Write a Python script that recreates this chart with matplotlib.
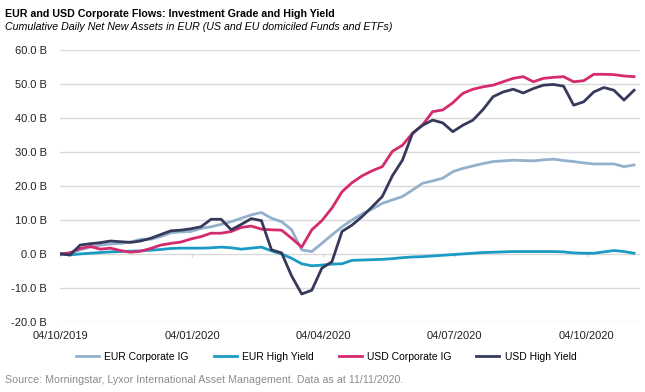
import numpy as np
import pandas as pd
import matplotlib
matplotlib.use("Agg")
import matplotlib.pyplot as plt
import matplotlib.dates as mdates

plt.rcParams['font.family'] = ['Liberation Sans', 'DejaVu Sans']

# weekly observations, Friday 04/10/2019 onwards
dates = pd.date_range("2019-10-04", periods=58, freq="7D")

eur_ig = [0, 0.3, 1.2, 2.0, 2.6, 2.9, 3.1, 3.5, 4.3, 4.3, 5.1, 6.2, 6.5, 6.6, 7.5,
          8.0, 8.7, 9.5, 10.5, 11.5, 12.2, 10.5, 9.5, 7.1, 1.2, 0.7, 3.1, 5.6, 8.0,
          10.0, 11.8, 13.2, 14.9, 15.9, 16.9, 18.8, 20.8, 21.5, 22.3, 24.2, 25.2,
          25.9, 26.6, 27.2, 27.4, 27.6, 27.5, 27.4, 27.7, 27.9, 27.5, 27.2, 26.8,
          26.5, 26.5, 26.5, 25.7, 26.2]
eur_hy = [0, -0.3, 0, 0.2, 0.4, 0.6, 0.7, 0.8, 0.9, 1.1, 1.3, 1.6, 1.7, 1.7, 1.7,
          1.8, 2.0, 1.8, 1.4, 1.7, 2.0, 0.9, 0, -1.3, -2.9, -3.5, -3.3, -3.0, -2.9,
          -1.9, -1.8, -1.7, -1.6, -1.4, -1.1, -0.9, -0.8, -0.6, -0.4, -0.2, 0,
          0.2, 0.4, 0.5, 0.6, 0.7, 0.7, 0.7, 0.7, 0.7, 0.6, 0.3, 0.2, 0.2, 0.6,
          1.0, 0.7, 0.2]
usd_ig = [0, 0.3, 1.6, 2.2, 1.4, 1.7, 1.0, 0.5, 0.8, 1.6, 2.6, 3.1, 3.5, 4.4, 5.1,
          6.1, 6.1, 6.6, 7.8, 8.2, 7.3, 7.1, 7.0, 4.6, 2.0, 7.1, 9.8, 13.5, 18.3,
          21.0, 23.0, 24.5, 25.7, 30.2, 32.0, 35.5, 38.0, 41.9, 42.4, 44.5, 47.3,
          48.5, 49.2, 49.7, 50.7, 51.7, 52.2, 50.7, 51.7, 52.0, 52.2, 50.7, 51.0,
          52.9, 52.9, 52.8, 52.4, 52.2]
usd_hy = [0, -0.3, 2.6, 3.0, 3.3, 3.8, 3.6, 3.4, 3.8, 4.6, 5.7, 6.8, 7.0, 7.4, 8.0,
          10.2, 10.2, 7.1, 8.7, 10.4, 9.8, 1.2, 0.3, -6.5, -11.8, -10.7, -4.2, -2.3,
          6.6, 8.5, 11.0, 13.9, 16.9, 23.0, 27.6, 35.5, 37.9, 39.4, 38.6, 36.0,
          37.9, 39.4, 42.5, 46.3, 47.7, 48.5, 47.4, 48.7, 49.7, 49.9, 49.4, 43.8,
          44.8, 47.7, 49.0, 48.2, 45.3, 48.2]

series = [
    ("EUR Corporate IG", eur_ig, '#93b1cd'),
    ("EUR High Yield", eur_hy, '#1b9bc4'),
    ("USD Corporate IG", usd_ig, '#d62a6e'),
    ("USD High Yield", usd_hy, '#363a5a'),
]

tick_dates = pd.to_datetime(["2019-10-04", "2020-01-04", "2020-04-04",
                             "2020-07-04", "2020-10-04"])
y_ticks = np.arange(-20, 61, 10)

fig = plt.figure(figsize=(6.45, 3.92), dpi=100)
ax = fig.add_axes([0.093, 0.179, 0.899, 0.693])

for y in y_ticks:
    ax.axhline(y, color='#d9d9d9', lw=1, zorder=0)
# small category ticks on the zero line
ax.vlines(tick_dates, -0.9, 0, color='#d9d9d9', lw=1, zorder=0)

for name, vals, col in series:
    ax.plot(dates, vals, color=col, lw=2.0, label=name, zorder=2)

ax.set_xlim(pd.Timestamp("2019-10-04"), pd.Timestamp("2020-11-10"))
ax.set_ylim(-20, 60)
ax.set_yticks(y_ticks)
ax.set_yticklabels([f"{v:.1f} B" for v in y_ticks])
ax.set_xticks(tick_dates)
ax.xaxis.set_major_formatter(mdates.DateFormatter("%d/%m/%Y"))
ax.tick_params(axis='both', length=0, labelsize=8, colors='#222222')
ax.tick_params(axis='y', pad=9.5)
ax.tick_params(axis='x', pad=6.5)
for s in ax.spines.values():
    s.set_visible(False)

fig.text(0.008, 0.978, "EUR and USD Corporate Flows: Investment Grade and High Yield",
         fontsize=7.7, fontweight='bold', va='top')
fig.text(0.008, 0.945, "Cumulative Daily Net New Assets in EUR (US and EU domiciled Funds and ETFs)",
         fontsize=7.7, style='italic', va='top')

fig.legend(loc='center', bbox_to_anchor=(0.506, 0.089), ncol=4, frameon=False,
           fontsize=7.5, handlelength=2.2, columnspacing=2.4, handletextpad=0.5)

fig.text(0.008, 0.031, "Source: Morningstar, Lyxor International Asset Management. Data as at 11/11/2020.",
         fontsize=7.7, color='#8c8c8c', va='center')

fig.savefig("out.png", dpi=100)
